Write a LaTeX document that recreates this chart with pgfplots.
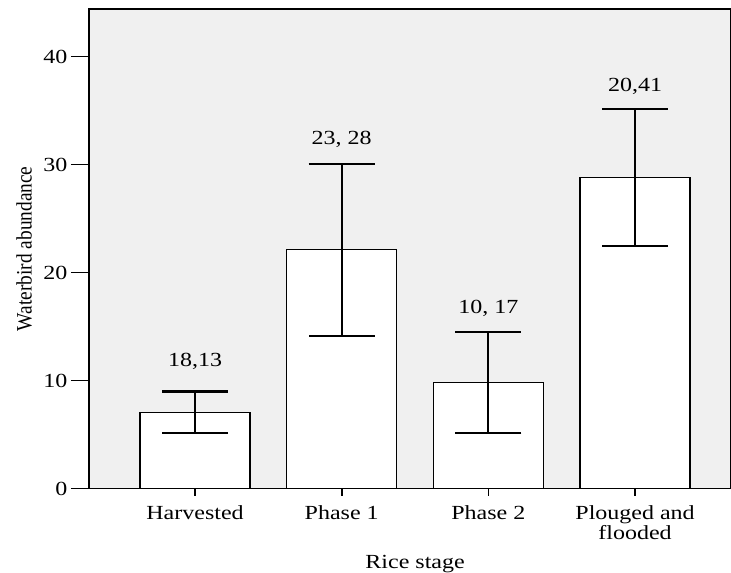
\documentclass[border=0pt]{standalone}
\usepackage{pgfplots}
\pgfplotsset{compat=1.18}
\usepackage{fontspec}
\setmainfont{Liberation Serif}
\newfontfamily\wide[FakeStretch=1.2]{Liberation Serif}
\newfontfamily\narrow[FakeStretch=0.88]{Liberation Serif}
\definecolor{bg}{HTML}{F0F0F0}
\begin{document}
\begin{tikzpicture}
\begin{axis}[
  scale only axis,
  width=642pt, height=479.5pt,
  xmin=-0.723, xmax=3.654,
  ymin=0, ymax=44.4,
  axis background/.style={fill=bg},
  axis line style={line width=1.8pt},
  ybar, bar width=0.75, bar shift=0pt,
  xtick={0,1,2,3},
  xticklabels={Harvested, Phase 1, Phase 2, {Plouged and\\flooded}},
  xticklabel style={align=center, font=\wide\fontsize{20}{16}\selectfont, yshift=4pt},
  ytick={0,10,20,30,40},
  yticklabel style={font=\wide\fontsize{20}{22}\selectfont},
  /pgf/number format/assume math mode=true,
  tick align=outside,
  major tick length=18pt,
  x tick style={line width=1.8pt, black, /pgfplots/major tick length=7pt},
  y tick style={line width=1.8pt, black},
  xtick pos=bottom, ytick pos=left,
  xlabel={Rice stage},
  ylabel={Waterbird abundance},
  xlabel style={font=\wide\fontsize{20}{22}\selectfont, at={(axis description cs:0.508,-0.158)}, anchor=center},
  ylabel style={font=\narrow\fontsize{22}{24}\selectfont, at={(axis description cs:-0.101,0.5)}, anchor=center},
  clip=false,
]
\addplot+[ybar, fill=white, draw=black, line width=1.2pt, mark=none,
  error bars/.cd, y dir=both, y explicit,
  error bar style={line width=2.1pt, black},
  error mark options={line width=2.1pt, black, mark size=33pt, rotate=90}]
coordinates {
  (0,7.05) +- (0,1.93)
  (1,22.1) +- (0,7.98)
  (2,9.8) +- (0,4.7)
  (3,28.77) +- (0,6.35)
};
\node[font=\wide\fontsize{20}{22}\selectfont] at (axis cs:0,11.8) {18,13};
\node[font=\wide\fontsize{20}{22}\selectfont] at (axis cs:1,32.3) {23, 28};
\node[font=\wide\fontsize{20}{22}\selectfont] at (axis cs:2,16.7) {10, 17};
\node[font=\wide\fontsize{20}{22}\selectfont] at (axis cs:3,37.2) {20,41};
\end{axis}
\pgfresetboundingbox
\path (-89pt,-84.5pt) rectangle (642pt,488.5pt);
\end{tikzpicture}
\end{document}
